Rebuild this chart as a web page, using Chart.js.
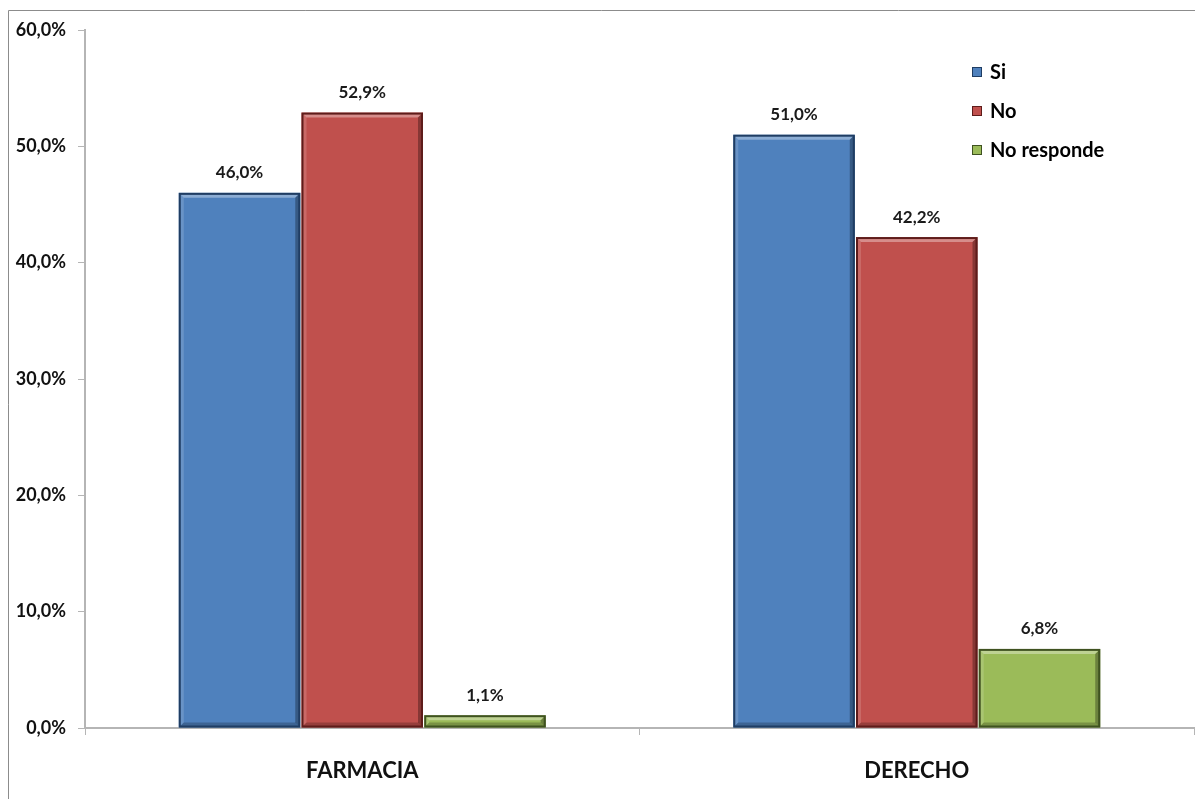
<!DOCTYPE html>
<html>
<head>
<meta charset="utf-8">
<script src="https://cdn.jsdelivr.net/npm/chart.js@4.4.1/dist/chart.umd.min.js"></script>
<style>
  html, body { margin: 0; padding: 0; background: #fff; }
  #wrap { width: 1195px; height: 799px; }
</style>
</head>
<body>
<div id="wrap"><canvas id="barChart"></canvas></div>
<script>
// data
var categories = ["FARMACIA", "DERECHO"];
var seriesNames = ["Si", "No", "No responde"];
var siValues = [46.0, 51.0];
var noValues = [52.9, 42.2];
var noRespondeValues = [1.1, 6.8];
var yMax = 60, yStep = 10;

var colors = ["#4f81bd", "#c0504d", "#9bbb59"];
var edgeColors = ["#1f3d63", "#5e1c1a", "#3f5220"];
var FONT = "Lato, 'Open Sans', sans-serif";

function pct(v) {
    return v.toFixed(1).replace(".", ",") + "%";
}

// frame round the whole chart
var framePlugin = {
    id: "frame",
    beforeDraw: function(chart) {
        var c = chart.ctx;
        c.save();
        c.strokeStyle = "#8c8c8c";
        c.lineWidth = 1;
        c.beginPath();
        c.moveTo(8.5, chart.height);
        c.lineTo(8.5, 10.5);
        c.lineTo(chart.width, 10.5);
        c.stroke();
        c.restore();
    }
};

// bevel look on the bars + value labels on top
var barExtras = {
    id: "barExtras",
    afterDatasetsDraw: function(chart) {
        var c = chart.ctx;
        chart.data.datasets.forEach(function(ds, i) {
            var meta = chart.getDatasetMeta(i);
            meta.data.forEach(function(bar, j) {
                var p = bar.getProps(["x", "y", "base", "width"], true);
                var l = p.x - p.width / 2, r = p.x + p.width / 2;
                var t = p.y, b = p.base;
                var bev = Math.min(5, (b - t) / 2);
                c.save();
                // top light strip
                c.fillStyle = "rgba(255,255,255,0.35)";
                c.beginPath();
                c.moveTo(l, t); c.lineTo(r, t); c.lineTo(r - bev, t + bev); c.lineTo(l + bev, t + bev);
                c.closePath(); c.fill();
                // left light strip
                c.fillStyle = "rgba(255,255,255,0.15)";
                c.beginPath();
                c.moveTo(l, t); c.lineTo(l + bev, t + bev); c.lineTo(l + bev, b - bev); c.lineTo(l, b);
                c.closePath(); c.fill();
                // right dark strip
                c.fillStyle = "rgba(0,0,0,0.30)";
                c.beginPath();
                c.moveTo(r, t); c.lineTo(r, b); c.lineTo(r - bev, b - bev); c.lineTo(r - bev, t + bev);
                c.closePath(); c.fill();
                // bottom dark strip
                c.fillStyle = "rgba(0,0,0,0.22)";
                c.beginPath();
                c.moveTo(l, b); c.lineTo(r, b); c.lineTo(r - bev, b - bev); c.lineTo(l + bev, b - bev);
                c.closePath(); c.fill();
                // outline
                c.strokeStyle = edgeColors[i];
                c.lineWidth = 2;
                c.strokeRect(l + 1, t + 1, p.width - 2, b - t - 2);
                // value
                c.fillStyle = "#1a1a1a";
                c.font = "bold 17px " + FONT;
                c.textAlign = "center";
                c.textBaseline = "middle";
                c.fillText(pct(ds.data[j]), p.x, t - 20);
                c.restore();
            });
        });
    }
};

// legend drawn inside the plot, top right
var legendPlugin = {
    id: "innerLegend",
    afterDraw: function(chart) {
        var c = chart.ctx;
        var a = chart.chartArea;
        var x = a.right - 222, y = a.top + 42;
        c.save();
        chart.data.datasets.forEach(function(ds, i) {
            var cy = y + i * 39;
            c.fillStyle = ds.backgroundColor;
            c.fillRect(x, cy - 5, 10, 10);
            c.strokeStyle = edgeColors[i];
            c.lineWidth = 1;
            c.strokeRect(x + 0.5, cy - 4.5, 9, 9);
            c.fillStyle = "#000";
            c.font = "bold 20px " + FONT;
            c.textAlign = "left";
            c.textBaseline = "middle";
            c.fillText(ds.label, x + 18, cy + 1);
        });
        c.restore();
    }
};

var ctx = document.getElementById("barChart").getContext("2d");
var myBarChart = new Chart(ctx, {
    type: "bar",
    data: {
        labels: categories,
        datasets: [
            { label: seriesNames[0], data: siValues, backgroundColor: colors[0] },
            { label: seriesNames[1], data: noValues, backgroundColor: colors[1] },
            { label: seriesNames[2], data: noRespondeValues, backgroundColor: colors[2] }
        ]
    },
    options: {
        responsive: true,
        maintainAspectRatio: false,
        animation: false,
        layout: { padding: { top: 30, right: 1, left: 0, bottom: 0 } },
        datasets: { bar: { categoryPercentage: 0.664, barPercentage: 0.99 } },
        plugins: {
            legend: { display: false },
            tooltip: { enabled: false }
        },
        scales: {
            x: {
                grid: { drawOnChartArea: false, drawTicks: true, tickLength: 7, color: "#b5b5b5", offset: true },
                border: { color: "#b5b5b5", width: 2 },
                ticks: { color: "#111", padding: 23, font: { family: FONT, size: 22, weight: "bold" } },
                afterFit: function(scale) { scale.height = 71; }
            },
            y: {
                min: 0,
                max: yMax,
                ticks: {
                    stepSize: yStep,
                    color: "#111",
                    padding: 12,
                    font: { family: FONT, size: 18, weight: "bold" },
                    callback: function(v) { return pct(v); }
                },
                grid: { drawOnChartArea: false, drawTicks: true, tickLength: 7, color: "#b5b5b5" },
                border: { color: "#b5b5b5", width: 2 },
                afterFit: function(scale) { scale.width = 85; }
            }
        }
    },
    plugins: [framePlugin, barExtras, legendPlugin]
});
</script>
</body>
</html>
